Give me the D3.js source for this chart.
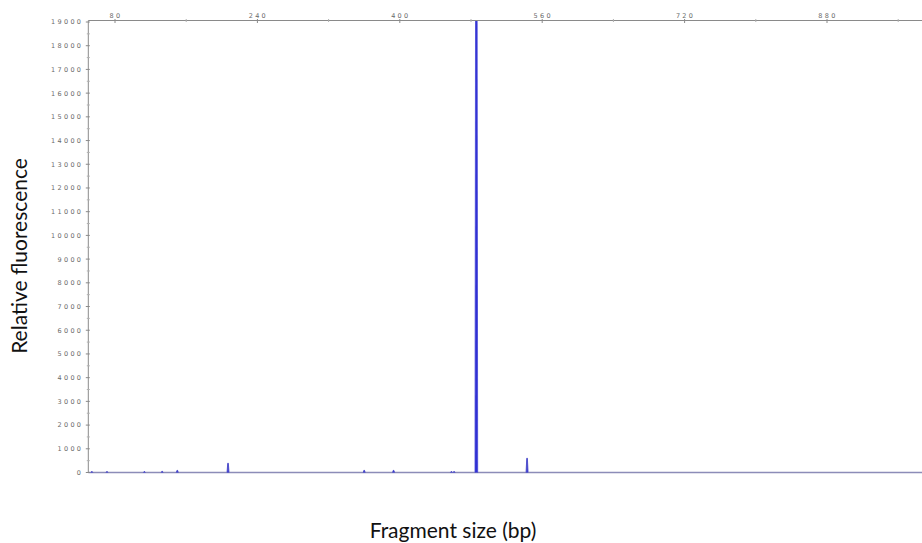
<!DOCTYPE html>
<html>
<head>
<meta charset="utf-8">
<script src="https://cdn.jsdelivr.net/npm/d3@7"></script>
<style>
  html, body { margin: 0; padding: 0; background: #fff; }
  svg { display: block; }
</style>
</head>
<body>
<svg id="chart" width="922" height="543"></svg>
<script>
// Electropherogram peaks: fragment sizes (bp) and peak heights (RFU)
const peakSizes   = [54, 71, 113, 133, 150, 207, 360, 393, 458, 461, 486, 543];
const peakHeights = [40, 40, 40, 50, 90, 390, 90, 90, 40, 40, 26000, 600];

const xMajorTicks = [80, 240, 400, 560, 720, 880];
const xMinorTicks = [160, 320, 480, 640, 800, 960];
const yMajorTicks = d3.range(0, 19001, 1000);
const yMinorTicks = d3.range(500, 19001, 1000);

const svg = d3.select("#chart");
const plotLeft = 88.3, plotTop = 20.5, plotBottom = 472.5;

const x = d3.scaleLinear().domain([50, 1000]).range([plotLeft, 933.8]);
const y = d3.scaleLinear().domain([0, 19000]).range([plotBottom, 22]);

const axisColor = "#8a8a8a";
const tickFont = "DejaVu Sans, sans-serif";

// clip the trace to the plotting area
svg.append("defs").append("clipPath").attr("id", "plot")
  .append("rect").attr("x", plotLeft).attr("y", plotTop)
  .attr("width", 922 - plotLeft).attr("height", plotBottom - plotTop + 4);

// baseline of the trace
svg.append("line")
  .attr("x1", x(50)).attr("x2", 922)
  .attr("y1", y(0)).attr("y2", y(0))
  .attr("stroke", "#8c8cb8").attr("stroke-width", 1.3);

// each peak as a narrow shape rising from the baseline
const peakLine = d3.line().x(d => x(d[0])).y(d => y(d[1]));
const peakShape = (bp, h) => {
  const big = h > 5000;
  const half = big ? 1.5 : 1.1;
  const shoulder = big ? 0.7 : 0.35;
  return [[bp - half, 0], [bp - shoulder, h], [bp + shoulder, h], [bp + half, 0]];
};

svg.append("g").attr("clip-path", "url(#plot)")
  .selectAll("path").data(peakSizes).join("path")
  .attr("d", (bp, i) => peakLine(peakShape(bp, peakHeights[i])))
  .attr("fill", "#3030d2")
  .attr("stroke", (bp, i) => peakHeights[i] > 5000 ? "#4444d8" : "#4a4ac8")
  .attr("stroke-width", (bp, i) => peakHeights[i] > 5000 ? 0.8 : 0.9);

// left axis
const yAxis = svg.append("g");
yAxis.append("line")
  .attr("x1", plotLeft).attr("x2", plotLeft).attr("y1", plotTop).attr("y2", plotBottom)
  .attr("stroke", axisColor).attr("stroke-width", 1);
yAxis.selectAll("line.major").data(yMajorTicks).join("line")
  .attr("class", "major")
  .attr("x1", plotLeft - 2.5).attr("x2", plotLeft + 1.5)
  .attr("y1", d => y(d)).attr("y2", d => y(d))
  .attr("stroke", axisColor);
yAxis.selectAll("line.minor").data(yMinorTicks).join("line")
  .attr("class", "minor")
  .attr("x1", plotLeft - 1.5).attr("x2", plotLeft + 1.5)
  .attr("y1", d => y(d)).attr("y2", d => y(d))
  .attr("stroke", "#b0b0b0");
yAxis.selectAll("text").data(yMajorTicks).join("text")
  .attr("x", plotLeft - 5)
  .attr("y", d => y(d) + 2.4)
  .attr("text-anchor", "end")
  .attr("font-family", tickFont)
  .attr("font-size", 6.5)
  .attr("letter-spacing", 2.3)
  .attr("fill", "#6a6a6a")
  .text(d => d);

// top axis
const xAxis = svg.append("g");
xAxis.append("line")
  .attr("x1", plotLeft).attr("x2", 922).attr("y1", plotTop).attr("y2", plotTop)
  .attr("stroke", axisColor).attr("stroke-width", 1);
xAxis.selectAll("line.major").data(xMajorTicks).join("line")
  .attr("class", "major")
  .attr("x1", d => x(d)).attr("x2", d => x(d))
  .attr("y1", plotTop - 1.5).attr("y2", plotTop + 2.5)
  .attr("stroke", axisColor);
xAxis.selectAll("line.minor").data(xMinorTicks).join("line")
  .attr("class", "minor")
  .attr("x1", d => x(d)).attr("x2", d => x(d))
  .attr("y1", plotTop - 1.5).attr("y2", plotTop + 1.5)
  .attr("stroke", "#b0b0b0");
xAxis.selectAll("text").data(xMajorTicks).join("text")
  .attr("x", d => x(d) + 1)
  .attr("y", 17.5)
  .attr("text-anchor", "middle")
  .attr("font-family", tickFont)
  .attr("font-size", 6.5)
  .attr("letter-spacing", 2.3)
  .attr("fill", "#6a6a6a")
  .text(d => d);

// axis titles
svg.append("text")
  .attr("x", 453).attr("y", 538)
  .attr("text-anchor", "middle")
  .attr("font-family", "Lato, 'Open Sans', sans-serif")
  .attr("font-size", 21)
  .attr("fill", "#111")
  .text("Fragment size (bp)");

svg.append("text")
  .attr("transform", "translate(27,256) rotate(-90)")
  .attr("text-anchor", "middle")
  .attr("font-family", "Lato, 'Open Sans', sans-serif")
  .attr("font-size", 21)
  .attr("fill", "#111")
  .text("Relative fluorescence");
</script>
</body>
</html>
